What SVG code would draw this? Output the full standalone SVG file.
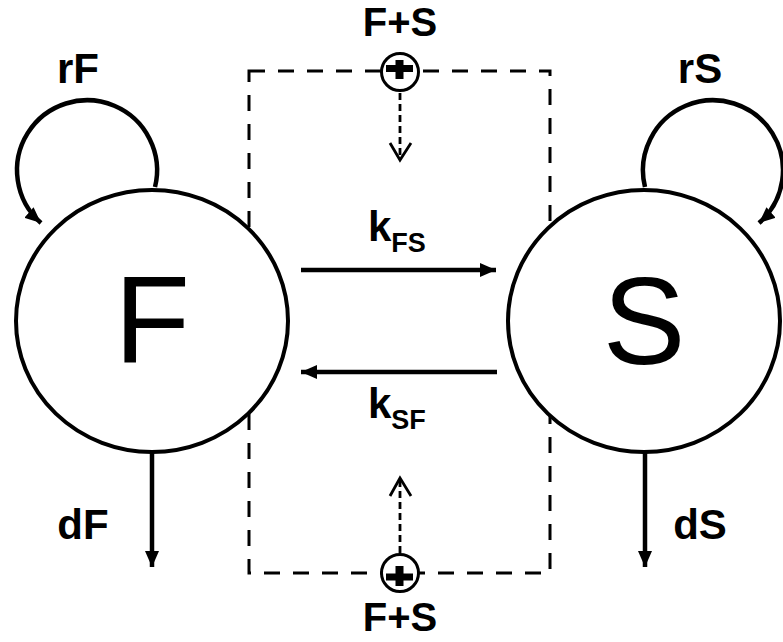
<svg xmlns="http://www.w3.org/2000/svg" width="783" height="642" viewBox="0 0 783 642">
  <style>
    .lbl { font-family: "Liberation Sans", Arial, sans-serif; font-weight: bold; font-size: 42px; fill: #000; }
    .sum { font-size: 40px; }
    .sub { font-size: 27px; }
    .big { font-family: "Liberation Sans", Arial, sans-serif; font-size: 124px; fill: #000; }
    .node { fill: #fff; stroke: #000; stroke-width: 4; }
    .flow { stroke: #000; stroke-width: 4.5; fill: none; }
    .box { stroke: #000; stroke-width: 3; fill: none; stroke-dasharray: 16 13; }
    .feed { stroke: #000; stroke-width: 2.8; fill: none; stroke-dasharray: 7 4; }
    .head { stroke: #000; stroke-width: 2.8; fill: none; }
  </style>
  <defs>
    <marker id="tri" viewBox="0 0 16 14" refX="16" refY="7" markerWidth="16" markerHeight="14" markerUnits="userSpaceOnUse" orient="auto">
      <path d="M0,0 L16,7 L0,14 Z" fill="#000"/>
    </marker>
  </defs>

  <!-- dashed boundary of the interaction region -->
  <rect class="box" x="249" y="71" width="301" height="502"/>

  <!-- self-renewal loops, production and death arrows, exchange arrows -->
  <g id="connectors">
    <path class="flow" d="M155,187 A70,70 0 1 0 41,223" marker-end="url(#tri)"/>
    <path class="flow" d="M645,187 A70,70 0 1 1 759,223" marker-end="url(#tri)"/>
    <line class="flow" x1="152" y1="452" x2="152" y2="567" marker-end="url(#tri)"/>
    <line class="flow" x1="645" y1="452" x2="645" y2="567" marker-end="url(#tri)"/>
    <line class="flow" x1="301" y1="270" x2="496" y2="270" marker-end="url(#tri)"/>
    <line class="flow" x1="497" y1="372" x2="301" y2="372" marker-end="url(#tri)"/>
    <line class="feed" x1="400" y1="93" x2="400" y2="158"/>
    <path class="head" d="M390,143 L400,160 L411,143"/>
    <line class="feed" x1="400" y1="553" x2="400" y2="480"/>
    <path class="head" d="M390,496 L400,478 L411,496"/>
  </g>

  <g id="node-F">
    <ellipse class="node" cx="152" cy="321" rx="136" ry="131"/>
    <text class="big" x="152" y="363" text-anchor="middle">F</text>
  </g>

  <g id="node-S">
    <ellipse class="node" cx="644" cy="321" rx="136" ry="131"/>
    <text class="big" x="644" y="364" text-anchor="middle">S</text>
  </g>

  <g id="sum-top">
    <circle cx="400" cy="72" r="18.5" fill="#fff" stroke="#000" stroke-width="3"/>
    <rect x="386" y="65" width="27" height="7" fill="#000"/>
    <rect x="395.5" y="60" width="8" height="19" fill="#000"/>
  </g>

  <g id="sum-bottom">
    <circle cx="400" cy="573" r="18.5" fill="#fff" stroke="#000" stroke-width="3"/>
    <rect x="386" y="573.5" width="27" height="7" fill="#000"/>
    <rect x="395.5" y="566" width="8" height="20" fill="#000"/>
  </g>

  <g id="labels">
    <text class="lbl" x="78" y="83" text-anchor="middle">rF</text>
    <text class="lbl" x="700" y="83" text-anchor="middle">rS</text>
    <text class="lbl" x="83" y="539" text-anchor="middle">dF</text>
    <text class="lbl" x="700" y="539" text-anchor="middle">dS</text>
    <text class="lbl sum" x="400" y="36" text-anchor="middle">F+S</text>
    <text class="lbl sum" x="400" y="631" text-anchor="middle">F+S</text>
    <text class="lbl" x="368" y="241">k<tspan class="sub" dy="11">FS</tspan></text>
    <text class="lbl" x="368" y="418">k<tspan class="sub" dy="11">SF</tspan></text>
  </g>
</svg>
